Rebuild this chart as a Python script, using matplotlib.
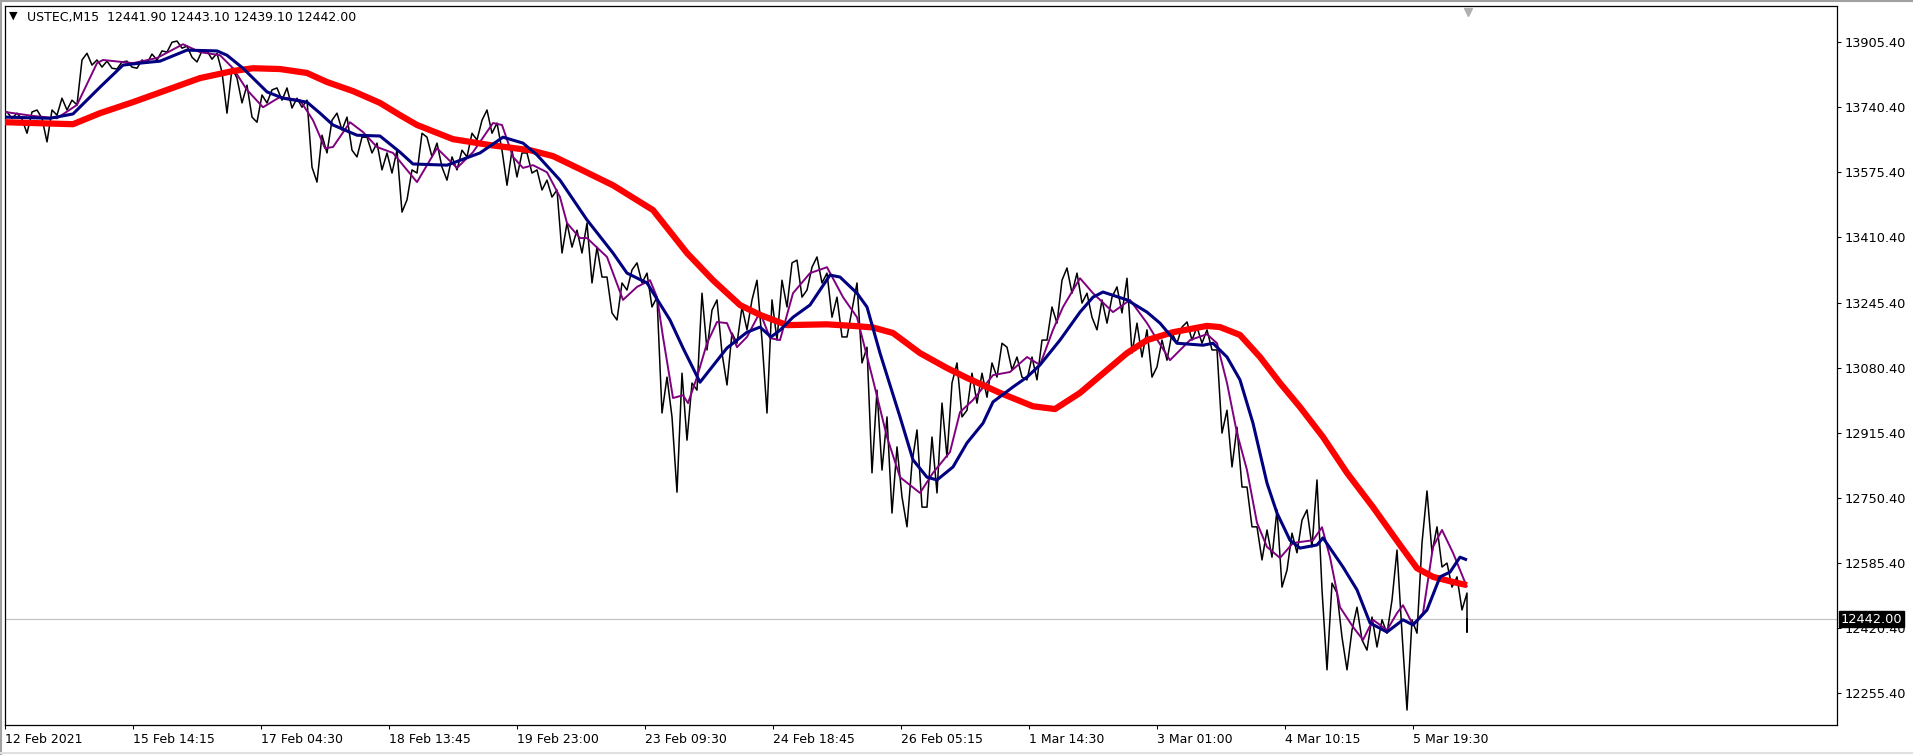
import numpy as np
import matplotlib.pyplot as plt
from matplotlib.lines import Line2D
from matplotlib.transforms import blended_transform_factory

# ----------------- chart data (USTEC, M15) -----------------
# price range (high / low) of each block of 10 bars
SEG = 10
seg_hi = [13729, 13726, 13729, 13734, 13734, 13764, 13759, 13861, 13878, 13861,
          13858, 13856, 13858, 13861, 13876, 13884, 13906, 13909, 13896, 13884,
          13884, 13878, 13840, 13815, 13797, 13772, 13785, 13790, 13790, 13764,
          13759, 13670, 13708, 13726, 13716, 13665, 13665, 13650, 13625, 13632,
          13582, 13675, 13665, 13650, 13615, 13632, 13675, 13708, 13734, 13701,
          13632, 13625, 13625, 13582, 13556, 13531, 13447, 13429, 13447, 13386,
          13310, 13295, 13328, 13346, 13320, 13259, 13056, 13066, 13041, 13269,
          13226, 13252, 13168, 13234, 13252, 13302, 13252, 13302, 13346, 13353,
          13335, 13361, 13320, 13259, 13226, 13295, 13132, 13023, 12955, 12879,
          12838, 12922, 12904, 12990, 13041, 13092, 13066, 13066, 13092, 13142,
          13132, 13107, 13107, 13150, 13234, 13302, 13333, 13320, 13269, 13252,
          13259, 13285, 13307, 13193, 13176, 13150, 13168, 13183, 13196, 13183,
          13176, 13125, 12972, 12929, 12777, 12676, 12668, 12719, 12660, 12693,
          12719, 12795, 12533, 12508, 12414, 12472, 12447, 12440, 12490, 12617,
          12440, 12635, 12767, 12676, 12584, 12549, 12508]
seg_lo = [13713, 13711, 13675, 13713, 13653, 13721, 13734, 13747, 13848, 13843,
          13840, 13838, 13843, 13840, 13853, 13861, 13881, 13891, 13868, 13856,
          13863, 13830, 13726, 13752, 13716, 13703, 13752, 13759, 13739, 13741,
          13589, 13551, 13625, 13683, 13632, 13615, 13625, 13582, 13574, 13475,
          13506, 13574, 13615, 13589, 13556, 13582, 13615, 13658, 13675, 13632,
          13543, 13564, 13574, 13531, 13513, 13371, 13386, 13371, 13295, 13310,
          13219, 13201, 13277, 13295, 13234, 12965, 12955, 12764, 12896, 13023,
          13125, 13117, 13036, 13142, 13176, 13150, 12965, 13150, 13234, 13259,
          13277, 13295, 13208, 13158, 13158, 13092, 12813, 12820, 12711, 12752,
          12676, 12726, 12726, 12762, 12853, 12955, 12972, 12990, 13005, 13056,
          13074, 13056, 13049, 13049, 13150, 13193, 13269, 13244, 13208, 13176,
          13193, 13219, 13117, 13107, 13056, 13082, 13099, 13142, 13150, 13142,
          13125, 12914, 12828, 12777, 12676, 12592, 12599, 12523, 12566, 12610,
          12625, 12516, 12313, 12396, 12313, 12389, 12363, 12371, 12406, 12406,
          12211, 12406, 12610, 12574, 12523, 12465, 12409]
n_bars = 1463
last_ohlc = [12441.90, 12443.10, 12439.10, 12442.00]

# moving averages (bar index, value) read at their turning points
fast_bar = [0, 28, 52, 72, 92, 98, 128, 152, 178, 195, 215, 228, 242, 258, 275, 295, 308, 320,
            328, 345, 358, 372, 388, 412, 432, 452, 468, 488, 497, 508, 518, 528, 542, 555,
            562, 575, 582, 602, 618, 632, 645, 652, 658, 668, 678, 683, 692, 702, 712, 722,
            732, 742, 755, 765, 775, 788, 805, 822, 838, 852, 868, 882, 895, 915, 928, 945,
            955, 968, 988, 1005, 1022, 1035, 1048, 1058, 1075, 1088, 1108, 1125, 1142, 1148,
            1165, 1185, 1202, 1212, 1222, 1232, 1242, 1252, 1262, 1275, 1288, 1308, 1317,
            1325, 1335, 1348, 1358, 1368, 1382, 1392, 1398, 1408, 1418, 1428, 1437, 1448, 1462]
fast_val = [13729, 13719, 13713, 13747, 13853, 13861, 13853, 13866, 13901, 13881, 13873, 13840,
            13785, 13741, 13767, 13759, 13708, 13637, 13640, 13703, 13678, 13640, 13625, 13551,
            13637, 13587, 13627, 13701, 13696, 13615, 13587, 13594, 13576, 13513, 13447, 13409,
            13409, 13361, 13252, 13285, 13302, 13259, 13158, 13003, 13010, 12990, 13056, 13142,
            13196, 13193, 13132, 13158, 13221, 13155, 13150, 13269, 13320, 13335, 13259, 13208,
            13049, 12904, 12802, 12762, 12813, 12866, 12967, 12998, 13061, 13069, 13107, 13087,
            13176, 13234, 13307, 13269, 13221, 13252, 13193, 13168, 13099, 13150, 13165, 13142,
            13041, 12914, 12820, 12686, 12625, 12597, 12635, 12642, 12675, 12599, 12472, 12422,
            12389, 12440, 12414, 12457, 12477, 12427, 12457, 12625, 12668, 12610, 12523]

mid_bar = [0, 45, 68, 95, 118, 135, 155, 182, 212, 222, 238, 262, 278, 302, 315, 328, 352, 375,
           395, 408, 442, 475, 498, 518, 532, 555, 582, 608, 622, 642, 665, 678, 695, 722, 742,
           755, 766, 775, 788, 805, 825, 835, 852, 862, 875, 895, 908, 922, 932, 948, 962, 978,
           988, 1008, 1022, 1035, 1055, 1075, 1088, 1098, 1122, 1142, 1155, 1172, 1198, 1208,
           1222, 1235, 1248, 1262, 1272, 1285, 1295, 1312, 1318, 1338, 1352, 1365, 1382, 1398,
           1408, 1422, 1435, 1445, 1455, 1462]
mid_val = [13716, 13713, 13724, 13792, 13848, 13853, 13858, 13886, 13884, 13873, 13840, 13780,
           13764, 13754, 13726, 13696, 13670, 13668, 13627, 13597, 13594, 13625, 13665, 13650,
           13620, 13556, 13455, 13371, 13320, 13295, 13201, 13130, 13043, 13130, 13170, 13183,
           13158, 13175, 13208, 13239, 13315, 13310, 13269, 13234, 13117, 12955, 12846, 12802,
           12795, 12828, 12889, 12939, 12993, 13031, 13056, 13087, 13150, 13221, 13259, 13272,
           13252, 13221, 13193, 13142, 13137, 13142, 13107, 13049, 12939, 12787, 12711, 12642,
           12622, 12630, 12648, 12574, 12516, 12432, 12409, 12440, 12427, 12465, 12549, 12561,
           12599, 12592]

slow_bar = [0, 68, 95, 128, 162, 195, 228, 248, 275, 302, 322, 348, 375, 395, 412, 448, 485, 525,
            548, 575, 608, 648, 682, 708, 735, 755, 782, 822, 848, 868, 888, 915, 942, 962, 995,
            1028, 1050, 1075, 1102, 1122, 1142, 1155, 1168, 1202, 1215, 1235, 1255, 1275, 1295,
            1318, 1342, 1368, 1395, 1412, 1428, 1448, 1462]
slow_val = [13703, 13698, 13726, 13754, 13785, 13815, 13833, 13840, 13838, 13828, 13805, 13782,
            13752, 13721, 13696, 13660, 13645, 13632, 13617, 13584, 13543, 13480, 13371, 13302,
            13239, 13214, 13188, 13190, 13186, 13182, 13168, 13117, 13079, 13054, 13016, 12982,
            12975, 13016, 13074, 13117, 13150, 13160, 13170, 13186, 13183, 13163, 13107, 13041,
            12980, 12904, 12813, 12726, 12630, 12571, 12549, 12536, 12528]

# axes
tick_every = 128
date_labels = ["12 Feb 2021", "15 Feb 14:15", "17 Feb 04:30", "18 Feb 13:45", "19 Feb 23:00",
               "23 Feb 09:30", "24 Feb 18:45", "26 Feb 05:15", "1 Mar 14:30", "3 Mar 01:00",
               "4 Mar 10:15", "5 Mar 19:30"]
price_ticks = [12255.40, 12420.40, 12585.40, 12750.40, 12915.40, 13080.40,
               13245.40, 13410.40, 13575.40, 13740.40, 13905.40]

# ----------------- plotting -----------------
W, H = 1913, 755
fig = plt.figure(figsize=(W / 100, H / 100), dpi=100)
fig.patch.set_facecolor("white")
ax = fig.add_axes([5 / W, 30 / H, 1832 / W, 719 / H])
ax.set_xlim(0, 1832)
ax.set_ylim(12173, 13998)

# price: each block goes low->high if the next block sits higher, else high->low
px, py = [], []
mids = [(h + l) / 2 for h, l in zip(seg_hi, seg_lo)]
for k, (h, l) in enumerate(zip(seg_hi, seg_lo)):
    nxt = mids[k + 1] if k + 1 < len(mids) else last_ohlc[3]
    pair = [l, h] if nxt > mids[k] else [h, l]
    for off, v in zip([2, 7], pair):
        px.append(min(k * SEG + off, n_bars - 1))
        py.append(v)
px.append(n_bars - 1)
py.append(last_ohlc[3])
ax.plot(px, py, color="black", lw=1.1, zorder=2)

ax.plot(fast_bar, fast_val, color="#800080", lw=1.4, zorder=3, solid_capstyle="butt")
ax.plot(slow_bar, slow_val, color="#ff0000", lw=4.5, zorder=4, solid_capstyle="butt")
ax.plot(mid_bar, mid_val, color="#000080", lw=2.2, zorder=5, solid_capstyle="butt")

# current price line
ax.axhline(last_ohlc[3], color="#c0c0c0", lw=0.8, zorder=1)

# axis styling
for s in ax.spines.values():
    s.set_color("black")
    s.set_linewidth(0.9)
ax.yaxis.tick_right()
ax.set_yticks(price_ticks)
ax.set_yticklabels([f"{v:.2f}" for v in price_ticks])
ax.tick_params(axis="y", length=3, width=0.75, pad=2.5, labelsize=9.3, colors="black")
ax.set_xticks([i * tick_every for i in range(len(date_labels))])
ax.set_xticklabels(date_labels)
ax.tick_params(axis="x", length=3, width=0.75, pad=2.5, labelsize=9, colors="black")
for lab in ax.get_xticklabels():
    lab.set_horizontalalignment("left")

# price box on the scale
tr = blended_transform_factory(ax.transAxes, ax.transData)
ax.text(1.0 + 4 / 1832, last_ohlc[3], f"{last_ohlc[3]:.2f}", transform=tr, ha="left",
        va="center", color="white", fontsize=9.3, zorder=10,
        bbox=dict(facecolor="black", edgecolor="black", pad=1.2), clip_on=False)

# chart shift marker
ax.plot([n_bars], [0.992], transform=blended_transform_factory(ax.transData, ax.transAxes),
        marker="v", color="#b0b0b0", markersize=6, clip_on=False, zorder=6)

# header
fig.text(9 / W, 1 - 16 / H, "\u25bc", fontsize=8, va="center", ha="left")
fig.text(27 / W, 1 - 17 / H, "USTEC,M15  " + " ".join(f"{v:.2f}" for v in last_ohlc),
         fontsize=9, va="center", ha="left")

# window frame
fig.add_artist(Line2D([0, 1], [1 - 1 / H, 1 - 1 / H], color="#a0a0a0", lw=1.5))
fig.add_artist(Line2D([1 / W, 1 / W], [0, 1], color="#a0a0a0", lw=1.5))
fig.add_artist(Line2D([0, 1], [2 / H, 2 / H], color="#e0e0e0", lw=1.5))

fig.savefig("out.png", dpi=100)
